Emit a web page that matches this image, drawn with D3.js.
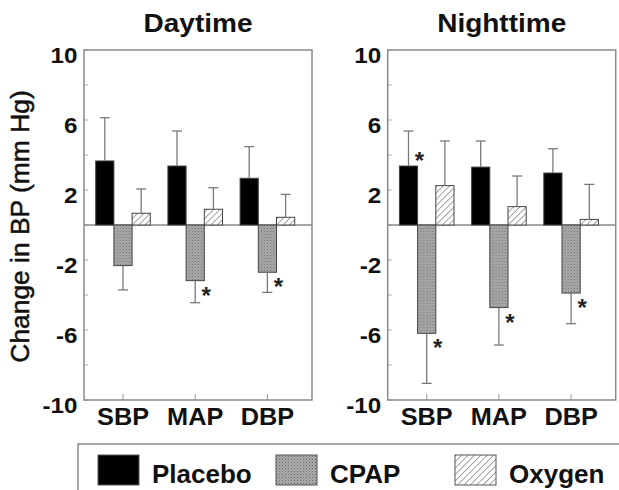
<!DOCTYPE html>
<html>
<head>
<meta charset="utf-8">
<script src="https://cdn.jsdelivr.net/npm/d3@7"></script>
<style>
  body { margin: 0; background: #fff; }
  text { font-family: "Liberation Sans", Arial, sans-serif; }
</style>
</head>
<body>
<div class="chart"></div>
<script>
// data
var categories = ["SBP", "MAP", "DBP"];
var series = ["Placebo", "CPAP", "Oxygen"];
var panelTitles = ["Daytime", "Nighttime"];
var yTickLabels = [10, 6, 2, -2, -6, -10];

var dayPlacebo = [3.66, 3.37, 2.67];
var dayCpap = [-2.32, -3.18, -2.70];
var dayOxygen = [0.67, 0.90, 0.44];
var dayPlaceboSE = [2.47, 2.00, 1.81];
var dayCpapSE = [1.39, 1.26, 1.15];
var dayOxygenSE = [1.39, 1.23, 1.31];
var dayStars = ["CPAP|MAP", "CPAP|DBP"];

var nightPlacebo = [3.37, 3.31, 2.97];
var nightCpap = [-6.19, -4.72, -3.89];
var nightOxygen = [2.25, 1.05, 0.32];
var nightPlaceboSE = [2.00, 1.49, 1.39];
var nightCpapSE = [2.86, 2.14, 1.75];
var nightOxygenSE = [2.55, 1.75, 2.00];
var nightStars = ["Placebo|SBP", "CPAP|SBP", "CPAP|MAP", "CPAP|DBP"];

var panels = [
    { title: panelTitles[0], left: 84, means: [dayPlacebo, dayCpap, dayOxygen],
      se: [dayPlaceboSE, dayCpapSE, dayOxygenSE], stars: dayStars },
    { title: panelTitles[1], left: 387.7, means: [nightPlacebo, nightCpap, nightOxygen],
      se: [nightPlaceboSE, nightCpapSE, nightOxygenSE], stars: nightStars }
];

var W = 619, H = 490;
var plotW = 228, plotTop = 50, plotBottom = 400;
var frameColor = "#8a8a8a";

var svg = d3.select('.chart')
    .append('svg')
    .attr('width', W)
    .attr('height', H);

// fill patterns
var defs = svg.append('defs');
var stip = defs.append('pattern')
    .attr('id', 'stipple')
    .attr('width', 3).attr('height', 3)
    .attr('patternUnits', 'userSpaceOnUse');
stip.append('rect').attr('width', 3).attr('height', 3).attr('fill', '#acacac');
stip.append('rect').attr('width', 1).attr('height', 1).attr('fill', '#6a6a6a');
stip.append('rect').attr('x', 1.5).attr('y', 1.5).attr('width', 1).attr('height', 1).attr('fill', '#777');

var hatch = defs.append('pattern')
    .attr('id', 'hatch')
    .attr('width', 4.5).attr('height', 4.5)
    .attr('patternUnits', 'userSpaceOnUse')
    .attr('patternTransform', 'rotate(45)');
hatch.append('rect').attr('width', 4.5).attr('height', 4.5).attr('fill', '#fff');
hatch.append('line').attr('x1', 0).attr('y1', 0).attr('x2', 0).attr('y2', 4.5)
    .attr('stroke', '#7d7d7d').attr('stroke-width', 1.4);

var fills = { Placebo: '#000', CPAP: 'url(#stipple)', Oxygen: 'url(#hatch)' };

var y = d3.scaleLinear().domain([-10, 10]).range([plotBottom, plotTop]);
var x0 = d3.scaleBand()
    .domain(categories)
    .range([2.9, 219.5])
    .paddingInner(0.244)
    .paddingOuter(0.122);
var x1 = d3.scaleBand()
    .domain(series)
    .range([0, x0.bandwidth()]);

// stretched bold text helper
function label(g, txt, x, yy, size, anchor, sx, weight) {
    return g.append('text')
        .attr('transform', `translate(${x},${yy}) scale(${sx},1)`)
        .attr('text-anchor', anchor)
        .attr('font-size', size)
        .attr('font-weight', weight || 'bold')
        .attr('fill', '#111')
        .text(txt);
}

panels.forEach(function (p) {
    var g = svg.append('g').attr('transform', `translate(${p.left},0)`);

    // minor/major ticks, inside the frame
    g.selectAll('.ytick')
        .data(d3.range(-10, 11, 2))
        .enter().append('line')
        .attr('x1', 0).attr('x2', 4)
        .attr('y1', d => y(d)).attr('y2', d => y(d))
        .attr('stroke', '#aaa').attr('stroke-width', 1);

    yTickLabels.forEach(function (d) {
        label(g, d, -6.5, y(d) + 13, 22, 'end', 1.1);
    });

    // zero line
    g.append('line')
        .attr('x1', 0).attr('x2', plotW)
        .attr('y1', y(0)).attr('y2', y(0))
        .attr('stroke', frameColor).attr('stroke-width', 1.3);

    // bars
    var groups = g.selectAll('.grp')
        .data(categories)
        .enter().append('g')
        .attr('transform', d => `translate(${x0(d)},0)`);

    groups.each(function (cat, ci) {
        var gg = d3.select(this);
        series.forEach(function (s, si) {
            var v = p.means[si][ci];
            var e = p.se[si][ci];
            var bx = x1(s), bw = x1.bandwidth();
            var cx = bx + bw / 2;
            gg.append('rect')
                .attr('x', bx)
                .attr('y', y(Math.max(0, v)))
                .attr('width', bw)
                .attr('height', Math.abs(y(v) - y(0)))
                .attr('fill', fills[s])
                .attr('stroke', '#444')
                .attr('stroke-width', 1);
            var end = v >= 0 ? v + e : v - e;
            gg.append('line')
                .attr('x1', cx).attr('x2', cx)
                .attr('y1', y(v)).attr('y2', y(end))
                .attr('stroke', '#7a7a7a').attr('stroke-width', 1.3);
            gg.append('line')
                .attr('x1', cx - 5).attr('x2', cx + 5)
                .attr('y1', y(end)).attr('y2', y(end))
                .attr('stroke', '#7a7a7a').attr('stroke-width', 1.3);
            if (p.stars.indexOf(s + '|' + cat) >= 0) {
                var sy = y(v) + (v >= 0 ? -10 : 10);
                gg.append('text')
                    .attr('x', cx + 11)
                    .attr('y', sy + 13)
                    .attr('text-anchor', 'middle')
                    .attr('font-size', 24)
                    .attr('font-weight', 'bold')
                    .attr('fill', '#222')
                    .text('*');
            }
        });
    });

    // bottom ticks pointing up
    g.selectAll('.xtick')
        .data(categories)
        .enter().append('line')
        .attr('x1', d => x0(d) + x0.bandwidth() / 2)
        .attr('x2', d => x0(d) + x0.bandwidth() / 2)
        .attr('y1', plotBottom).attr('y2', plotBottom - 6)
        .attr('stroke', '#999').attr('stroke-width', 1);

    categories.forEach(function (c) {
        label(g, c, x0(c) + x0.bandwidth() / 2, 425, 23, 'middle', 1.1);
    });

    // frame
    g.append('rect')
        .attr('x', 0).attr('y', plotTop)
        .attr('width', plotW).attr('height', plotBottom - plotTop)
        .attr('fill', 'none')
        .attr('stroke', frameColor).attr('stroke-width', 1.5);

    label(g, p.title, plotW / 2, 32, 25, 'middle', 1.12);
});

// y axis title
svg.append('text')
    .attr('transform', 'translate(29,226.5) rotate(-90)')
    .attr('text-anchor', 'middle')
    .attr('font-size', 26.4)
    .attr('fill', '#111')
    .attr('stroke', '#111')
    .attr('stroke-width', 0.5)
    .text('Change in BP (mm Hg)');

// legend
var legendX = [98, 276, 455];
var legend = svg.append('g');
legend.append('path')
    .attr('d', `M78,${H}V444H${W}`)
    .attr('fill', 'none')
    .attr('stroke', frameColor).attr('stroke-width', 1.5);
series.forEach(function (s, i) {
    legend.append('rect')
        .attr('x', legendX[i]).attr('y', 455)
        .attr('width', 41).attr('height', 30)
        .attr('fill', fills[s])
        .attr('stroke', '#555').attr('stroke-width', 1);
    legend.append('text')
        .attr('x', legendX[i] + 54).attr('y', 483)
        .attr('font-size', 26)
        .attr('font-weight', 'bold')
        .attr('fill', '#111')
        .text(s);
});
</script>
</body>
</html>
